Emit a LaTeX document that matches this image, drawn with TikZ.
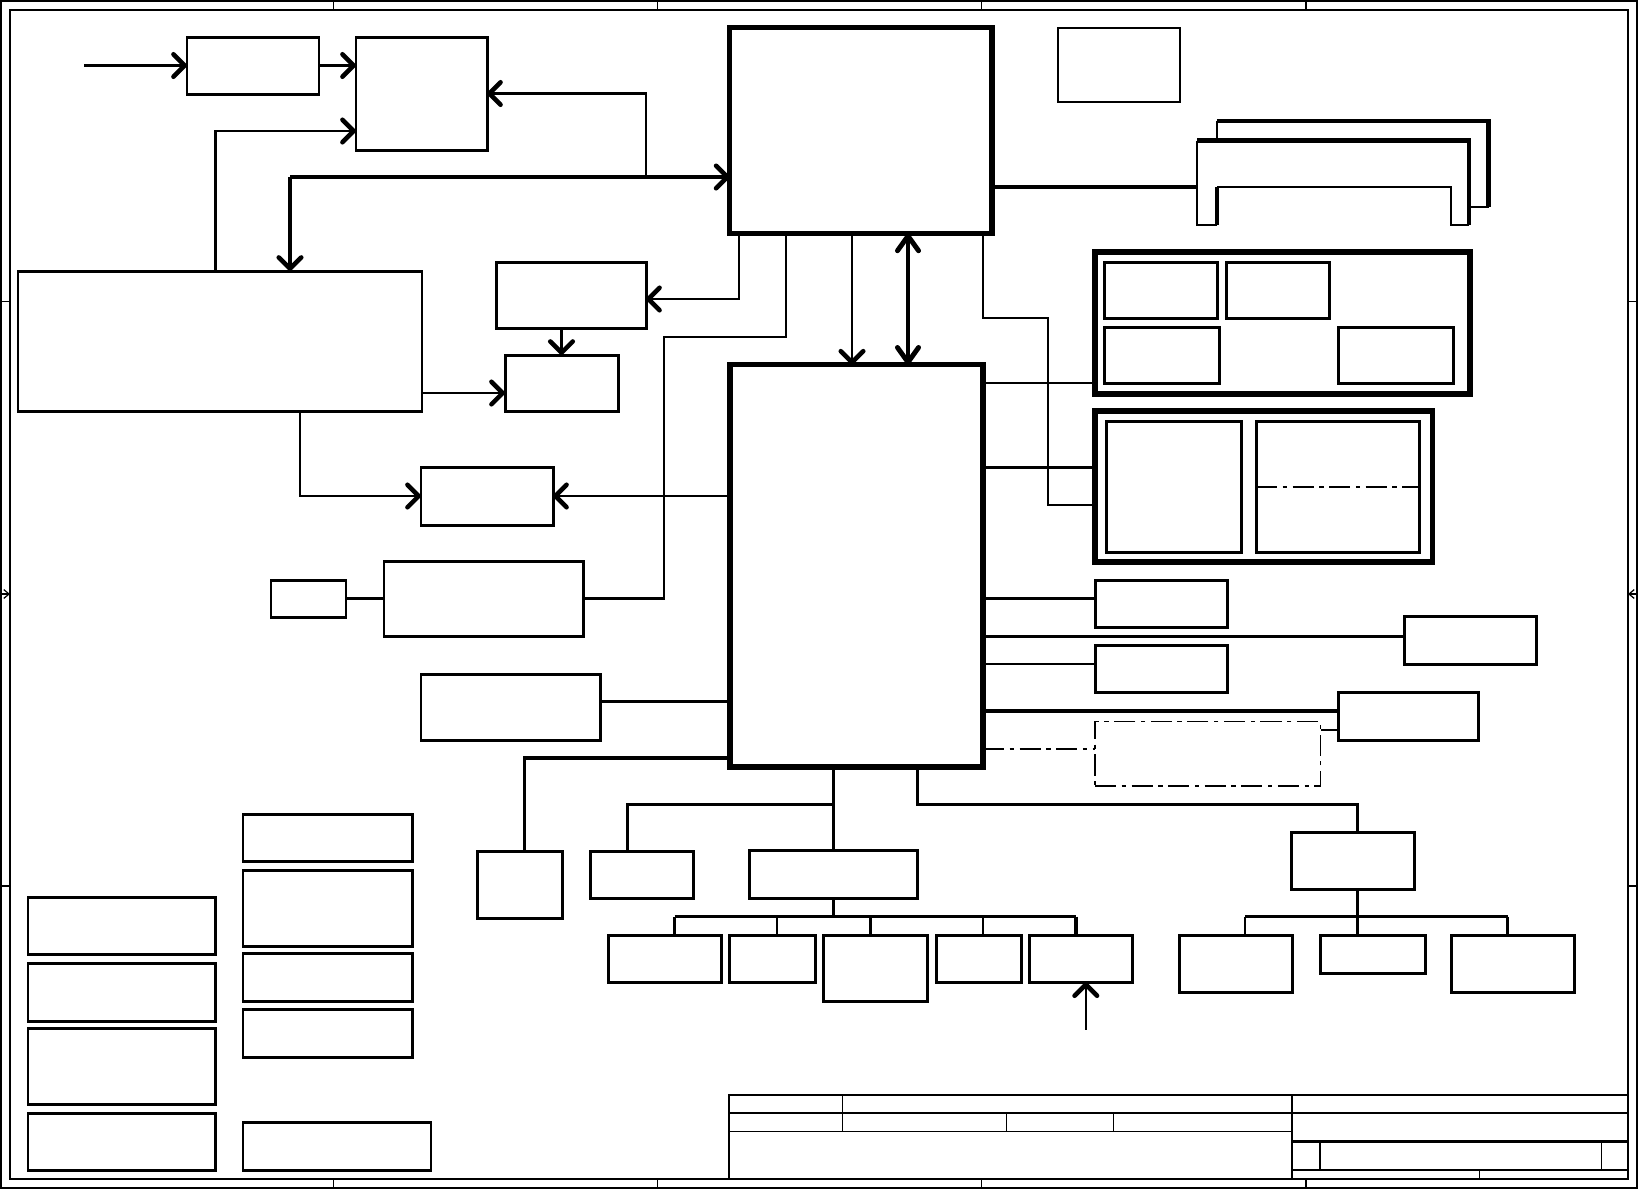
\documentclass[tikz,border=0pt]{standalone}
\usepackage{tikz}
\usetikzlibrary{arrows.meta, fit}

\begin{document}
\begin{tikzpicture}[x=0.01cm, y=-0.01cm,
    blk/.style={draw, line width=0.85pt, inner sep=0pt, outer sep=0pt},
    lblk/.style={blk, line width=0.55pt},
    chip/.style={blk, line width=1.5pt},
    grp/.style={blk, line width=1.5pt},
    wire/.style={line width=0.8pt},
    twire/.style={line width=0.55pt},
    hwire/.style={line width=0.95pt},
    barb/.style={-{Straight Barb[length=3.2pt, width=6.4pt, line width=1.3pt, round]}},
    dashdot/.style={line width=0.45pt, dash pattern=on 6pt off 1.6pt on 1.2pt off 1.6pt},
    frm/.style={line width=0.35pt}]
    \useasboundingbox (0,0) rectangle (1639,1190);
    % sheet frame
    \draw[frm] (1,1) rectangle (1637,1188);
    \draw[frm] (10,10) rectangle (1628,1179);
    \foreach \x in {333.5,657.5,981.5,1306} {
        \draw[frm] (\x,1) -- (\x,10);
        \draw[frm] (\x,1179) -- (\x,1188);
    }
    \foreach \y in {301.5,886} {
        \draw[frm] (1,\y) -- (10,\y);
        \draw[frm] (1628,\y) -- (1637,\y);
    }
    \draw[frm, -{Straight Barb[length=1.5pt, width=2.5pt]}] (1,594) -- (10,594);
    \draw[frm, -{Straight Barb[length=1.5pt, width=2.5pt]}] (1637,594) -- (1628,594);
    % title block
    \draw[frm] (729,1179) |- (1628,1095);
    \draw[frm] (729,1113) -- (1628,1113);
    \draw[frm] (729,1131.7) -- (1292,1131.7);
    \draw[line width=0.9pt] (1292,1141.7) -- (1628,1141.7);
    \draw[frm] (1292,1170) -- (1628,1170);
    \draw[frm] (842.6,1095) -- (842.6,1131.7);
    \draw[frm] (1006.7,1113) -- (1006.7,1131.7);
    \draw[frm] (1113.3,1113) -- (1113.3,1131.7);
    \draw[frm] (1292,1095) -- (1292,1179);
    \draw[frm] (1320,1141.7) -- (1320,1170);
    \draw[frm] (1601.5,1141.7) -- (1601.5,1170);
    \draw[frm] (1479.3,1170) -- (1479.3,1179);

    % blocks
    \node[blk, fit={(187,37) (319,94)}] (clk) {};
    \node[blk, fit={(356,37) (487,150)}] (pll) {};
    \node[chip, fit={(729.6,27.5) (992,233.5)}] (cpu) {};
    \node[lblk, fit={(1057.6,28.3) (1179.9,101.8)}] (tp) {};
    \node[blk, fit={(18,271) (422,411)}] (lcd) {};
    \node[blk, fit={(496,262) (646,328)}] (vga) {};
    \node[blk, fit={(505,355) (618,411)}] (crt) {};
    \node[blk, fit={(421,467) (553,525)}] (tmds) {};
    \node[blk, fit={(271,580) (346,617.5)}] (spk) {};
    \node[blk, fit={(384,561) (583,636.6)}] (codec) {};
    \node[blk, fit={(421,674) (600,740)}] (lan) {};
    \node[chip, fit={(730,364.7) (983,767)}] (sb) {};

    \node[grp, fit={(1095,252) (1470,394)}] (mem) {};
    \node[blk, fit={(1104,262) (1217,318)}] (mem1) {};
    \node[blk, fit={(1226,262) (1329,318)}] (mem2) {};
    \node[blk, fit={(1104,327) (1219,383)}] (mem3) {};
    \node[blk, fit={(1338,327) (1453,383)}] (mem4) {};
    \node[grp, fit={(1095,411) (1432.6,562)}] (disp) {};
    \node[blk, fit={(1106,421) (1241.5,552.6)}] (disp1) {};
    \node[blk, fit={(1256,421) (1419.6,552.6)}] (disp2) {};

    \node[blk, fit={(1095,580) (1227,627.6)}] (usb) {};
    \node[blk, fit={(1404.4,616.6) (1536,664.5)}] (sata) {};
    \node[blk, fit={(1095,645) (1227,692.5)}] (ide) {};
    \node[blk, fit={(1338.5,692) (1478.7,740)}] (pci) {};
    \node[draw, dashdot, inner sep=0pt, outer sep=0pt, fit={(1095,721.5) (1320.6,786)}] (opt) {};

    \node[blk, fit={(477,851) (562,918)}] (kbc) {};
    \node[blk, fit={(590,851) (693,898.6)}] (bios) {};
    \node[blk, fit={(749,850.7) (917.5,898.6)}] (lpc) {};
    \node[blk, fit={(608,935.3) (721,982.2)}] (r1) {};
    \node[blk, fit={(729.6,935.3) (815,982.2)}] (r2) {};
    \node[blk, fit={(823,935.3) (927,1001.5)}] (r3) {};
    \node[blk, fit={(936,935.3) (1021,982.2)}] (r4) {};
    \node[blk, fit={(1029.5,935.3) (1132.5,982.2)}] (r5) {};
    \node[blk, fit={(1291.8,832.4) (1414,889.7)}] (ec) {};
    \node[blk, fit={(1179,935.3) (1292,992.2)}] (v1) {};
    \node[blk, fit={(1320,935.3) (1425,973.6)}] (v2) {};
    \node[blk, fit={(1451,935.3) (1574.5,992.2)}] (v3) {};

    \foreach \n/\a/\b in {1/814/861.6, 2/870/946, 3/953.7/1001.8, 4/1009.6/1057.7}
        \node[blk, fit={(243,\a) (412.6,\b)}] (pw\n) {};
    \node[blk, fit={(243,1122.8) (431,1170)}] (pw5) {};
    \foreach \n/\a/\b in {1/897.7/954.5, 2/963/1021, 3/1028.7/1104.5, 4/1113/1170}
        \node[blk, fit={(28,\a) (215.5,\b)}] (px\n) {};

    % memory slots
    \draw[twire] (1217,140.5) -- (1217,121);
    \draw[line width=1.3pt] (1217,121) -- (1488.6,121) -- (1488.6,207);
    \draw[twire] (1488.6,207) -- (1469,207);
    \draw[line width=1.3pt] (1197,140.5) -- (1469,140.5) -- (1469,225);
    \draw[wire] (1469,225) -- (1451,225) -- (1451,187) -- (1217,187);
    \draw[line width=1.3pt] (1217,187) -- (1217,225);
    \draw[wire] (1217,225) -- (1197,225) -- (1197,140.5);
    \coordinate (dimm) at (1197,187);

    % tap points
    \coordinate (in) at (84,65.5);
    \coordinate (t1) at (215.5,131);
    \coordinate (t2) at (290,177);
    \coordinate (t3) at (646,93.5);
    \coordinate (t4) at (739,299);
    \coordinate (t5) at (422,393);
    \coordinate (t6) at (300,496);
    \coordinate (t7) at (786,337);
    \coordinate (t8) at (664,337);
    \coordinate (t9) at (600,701.5);
    \coordinate (t10) at (524.5,758);
    \coordinate (t11) at (833,804.7);
    \coordinate (t12) at (627.6,804.7);
    \coordinate (t13) at (917.5,804.7);
    \coordinate (t14) at (1357.7,804.7);
    \coordinate (t15) at (983,317.6);
    \coordinate (t16) at (1048,505);
    \coordinate (xs) at (852,0);
    \coordinate (xb) at (908,0);
    \coordinate (usbin) at (1085.8,1029.5);
    \coordinate (bus1l) at (674.7,916.6);
    \coordinate (bus1r) at (1076,916.6);
    \coordinate (bus2l) at (1245,916.6);
    \coordinate (bus2r) at (1507.5,916.6);

    % top left
    \draw[wire, barb] (in) -- (clk);
    \draw[wire, barb] (clk) -- (pll.west |- clk);
    \draw[wire, barb] (lcd.north -| t1) |- (pll.west |- t1);
    \draw[hwire, barb] (t2) -- (cpu.west |- t2);
    \draw[hwire, barb] (t2) -- (lcd.north -| t2);
    \draw[wire, barb] (t2 -| t3) |- (pll.east);
    \draw[wire, barb] (cpu.south -| t4) |- (vga.east |- t4);
    \draw[wire, barb] (vga.south -| crt) -- (crt.north);
    \draw[wire, barb] (lcd.east |- t5) -- (crt.west |- t5);
    \draw[wire, barb] (lcd.south -| t6) |- (tmds.west);
    \draw[wire, barb] (sb.west |- tmds) -- (tmds.east);
    \draw[wire] (cpu.south -| t7) |- (t8) |- (codec.east);
    \draw[wire] (spk.east) -- (codec.west |- spk);
    \draw[wire] (lan.east |- t9) -- (sb.west |- t9);
    \draw[hwire] (sb.west |- t10) -| (kbc.north -| t10);

    % cpu to south bridge and memory
    \draw[twire, barb] (cpu.south -| xs) -- (sb.north -| xs);
    \draw[line width=1.4pt, {Straight Barb[length=4.2pt, width=6pt, line width=1.4pt, round]}-{Straight Barb[length=4.2pt, width=6pt, line width=1.4pt, round]}] (cpu.south -| xb) -- (sb.north -| xb);
    \draw[line width=1.1pt] (cpu.east |- dimm) -- (dimm);
    \draw[twire] (cpu.south -| t15) -- (t15) -| (t16) -- (disp.west |- t16);

    % right side of south bridge
    \draw[wire] (sb.east |- 0,383) -- (mem.west |- 0,383);
    \draw[wire] (sb.east |- 0,467.7) -- (disp.west |- 0,467.7);
    \draw[dashdot] (disp2.west |- 0,487) -- (disp2.east |- 0,487);
    \draw[wire] (sb.east |- 0,598.6) -- (usb.west |- 0,598.6);
    \draw[hwire] (sb.east |- 0,636.2) -- (sata.west |- 0,636.2);
    \draw[wire] (sb.east |- 0,663.9) -- (ide.west |- 0,663.9);
    \draw[hwire] (sb.east |- 0,711) -- (pci.west |- 0,711);
    \draw[dashdot] (sb.east |- 0,749) -- (opt.west |- 0,749);
    \draw[twire] (opt.east |- 0,730) -- (pci.west |- 0,730);

    % below south bridge
    \draw[hwire] (sb.south -| lpc) -- (lpc.north);
    \draw[hwire] (t11) -| (bios.north -| t12);
    \draw[hwire] (lpc.south) -- (lpc.south |- bus1l);
    \draw[hwire] (bus1l) -- (bus1r);
    \draw[hwire] (bus1l) -- (r1.north -| bus1l);
    \draw[twire] (776.7,916.6) -- (r2.north -| 776.7,0);
    \draw[hwire] (870.7,916.6) -- (r3.north -| 870.7,0);
    \draw[twire] (982.7,916.6) -- (r4.north -| 982.7,0);
    \draw[hwire] (bus1r) -- (r5.north -| bus1r);
    \draw[twire, barb] (usbin) -- (r5.south -| usbin);

    \draw[wire] (sb.south -| t13) -- (t13) -| (ec.north -| t14);
    \draw[hwire] (ec.south -| t14) -- (t14 |- bus2l);
    \draw[hwire] (bus2l) -- (bus2r);
    \draw[wire] (bus2l) -- (v1.north -| bus2l);
    \draw[wire] (t14 |- bus2l) -- (v2.north -| t14);
    \draw[wire] (bus2r) -- (v3.north -| bus2r);
\end{tikzpicture}
\end{document}
